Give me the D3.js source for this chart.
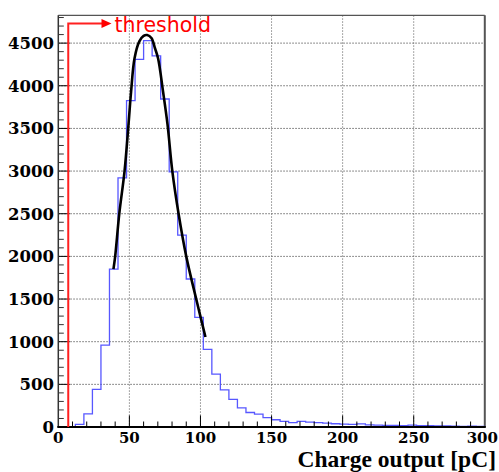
<!DOCTYPE html>
<html>
<head>
<meta charset="utf-8">
<script src="https://cdn.jsdelivr.net/npm/d3@7"></script>
<style>
  html, body { margin: 0; padding: 0; background: #fff; }
  svg { display: block; }
</style>
</head>
<body>
<script>
// Charge spectrum: 50 bins of 6 pC between 0 and 300 pC
const binEdgesStart = 0;
const binWidth = 6;
const counts = [
  0, 2, 30, 155, 440, 960, 1850, 2920, 3825, 4310,
  4530, 4350, 3845, 2990, 2250, 1735, 1285, 910, 620, 435,
  325, 225, 170, 150, 110, 85, 65, 52, 66, 58,
  52, 45, 38, 33, 30, 36, 25, 22, 20, 20,
  17, 22, 15, 15, 12, 12, 10, 8, 10, 8
];

// Fitted peak curve, sampled (charge [pC], entries)
const fitX = [38.8, 40.0, 42.9, 46.6, 49.4, 51.2, 53.6, 57.0, 60.0, 62.5, 65.5, 68.0, 70.2, 73.7, 76.8, 80.2, 84.6, 90.0, 97.0, 103.5];
const fitY = [1850, 2000, 2500, 3000, 3550, 3930, 4320, 4520, 4585, 4595, 4560, 4440, 4320, 3930, 3550, 3000, 2500, 2000, 1500, 1055];

// Threshold marker position [pC]
const thresholdValue = [7];
const thresholdLabel = ["threshold"];

const xTicks = [0, 50, 100, 150, 200, 250, 300];
const yTicks = [0, 500, 1000, 1500, 2000, 2500, 3000, 3500, 4000, 4500];
const xTitle = "Charge output [pC]";

const W = 499, H = 472;
const frame = { left: 58.3, right: 484.8, top: 15.3, bottom: 427 };
const yMax = 4826;

const svg = d3.select("body").append("svg")
  .attr("width", W).attr("height", H);

const x = d3.scaleLinear().domain([0, 300]).range([frame.left, frame.right]);
const y = d3.scaleLinear().domain([0, yMax]).range([frame.bottom, frame.top]);

// grid
const grid = svg.append("g");
grid.selectAll("line.gx").data(xTicks.filter(d => d > 0 && d < 300)).join("line")
  .attr("x1", d => x(d)).attr("x2", d => x(d))
  .attr("y1", frame.top).attr("y2", frame.bottom)
  .attr("stroke", "#8a8a8a").attr("stroke-width", 1)
  .attr("stroke-dasharray", "1.5,1.5");
grid.selectAll("line.gy").data(yTicks.filter(d => d > 0)).join("line")
  .attr("x1", frame.left).attr("x2", frame.right)
  .attr("y1", d => y(d)).attr("y2", d => y(d))
  .attr("stroke", "#6a6a6a").attr("stroke-width", 1)
  .attr("stroke-dasharray", "1.5,1.5");

// frame top/right
svg.append("line").attr("x1", frame.left).attr("x2", frame.right)
  .attr("y1", frame.top).attr("y2", frame.top)
  .attr("stroke", "#555").attr("stroke-width", 1.2);
svg.append("line").attr("x1", frame.right).attr("x2", frame.right)
  .attr("y1", frame.top).attr("y2", frame.bottom)
  .attr("stroke", "#555").attr("stroke-width", 2);

// histogram outline
const histPts = [];
counts.forEach((c, i) => {
  const x0 = binEdgesStart + i * binWidth;
  histPts.push([x0, c], [x0 + binWidth, c]);
});
const histLine = d3.line().x(d => x(d[0])).y(d => y(d[1]));
svg.append("path")
  .attr("d", histLine(histPts))
  .attr("fill", "none")
  .attr("stroke", "#4545ff")
  .attr("stroke-width", 1.3)
  .attr("stroke-opacity", 0.9);

// fit curve
const fitLine = d3.line().x(d => x(d[0])).y(d => y(d[1])).curve(d3.curveCatmullRom.alpha(0.5));
svg.append("path")
  .attr("d", fitLine(fitX.map((v, i) => [v, fitY[i]])))
  .attr("fill", "none")
  .attr("stroke", "#000")
  .attr("stroke-width", 2.6)
  .attr("stroke-linejoin", "round");

// axes
const xMinor = d3.range(0, 301, 10).filter(d => d % 50 !== 0);
const yMinor = d3.range(0, yMax, 100).filter(d => d % 500 !== 0);
const axes = svg.append("g").attr("stroke", "#000").attr("stroke-width", 1);
axes.selectAll("line.xt").data(xTicks.filter(d => d > 0 && d < 300)).join("line")
  .attr("x1", d => x(d)).attr("x2", d => x(d))
  .attr("y1", frame.bottom).attr("y2", frame.bottom - 11.5);
axes.selectAll("line.xm").data(xMinor).join("line")
  .attr("x1", d => x(d)).attr("x2", d => x(d))
  .attr("y1", frame.bottom).attr("y2", frame.bottom - 5.5);
axes.selectAll("line.yt").data(yTicks.filter(d => d > 0)).join("line")
  .attr("x1", frame.left).attr("x2", frame.left + 11.5)
  .attr("y1", d => y(d)).attr("y2", d => y(d));
axes.selectAll("line.ym").data(yMinor).join("line")
  .attr("x1", frame.left).attr("x2", frame.left + 5.5)
  .attr("y1", d => y(d)).attr("y2", d => y(d))
  .attr("stroke", "#333");

svg.append("line").attr("x1", frame.left).attr("x2", frame.left)
  .attr("y1", frame.top).attr("y2", frame.bottom)
  .attr("stroke", "#333").attr("stroke-width", 1.5);
svg.append("line").attr("x1", frame.left - 1).attr("x2", frame.right + 1)
  .attr("y1", frame.bottom).attr("y2", frame.bottom)
  .attr("stroke", "#000").attr("stroke-width", 2.2);

// tick labels
const tickFont = "'DejaVu Serif', serif";
svg.append("g").selectAll("text").data(xTicks).join("text")
  .attr("x", d => x(d)).attr("y", 442.5)
  .attr("text-anchor", "middle")
  .attr("font-family", tickFont).attr("font-weight", "bold")
  .attr("font-size", 15).attr("fill", "#000")
  .text(d => d)
  .each(function () {
    // keep the last label inside the page
    const bb = this.getBBox();
    const over = bb.x + bb.width - (W - 1);
    if (over > 0) d3.select(this).attr("x", +d3.select(this).attr("x") - over);
  });
svg.append("g").selectAll("text").data(yTicks).join("text")
  .attr("x", 54).attr("y", d => y(d) + 6)
  .attr("text-anchor", "end")
  .attr("font-family", tickFont).attr("font-weight", "bold")
  .attr("font-size", 16.5).attr("fill", "#000")
  .text(d => d);

// axis title
svg.append("text")
  .attr("x", 496).attr("y", 467)
  .attr("text-anchor", "end")
  .attr("font-family", "'Liberation Serif', 'Times New Roman', serif")
  .attr("font-weight", "bold").attr("font-size", 23.5)
  .attr("fill", "#000")
  .text(xTitle);

// threshold marker
const tx = x(thresholdValue[0]);
const arrowTip = 111.5, arrowY = 23.5;
svg.append("path")
  .attr("d", `M${tx},${frame.bottom} L${tx},${arrowY} L${arrowTip - 9},${arrowY}`)
  .attr("fill", "none").attr("stroke", "#ff2020").attr("stroke-width", 2);
svg.append("path")
  .attr("d", `M${arrowTip - 10},${arrowY - 4.5} L${arrowTip},${arrowY} L${arrowTip - 10},${arrowY + 4.5} Z`)
  .attr("fill", "#ff0000");
svg.append("text")
  .attr("x", 114.5).attr("y", 31.5)
  .attr("font-family", "'DejaVu Sans', sans-serif")
  .attr("font-size", 20.5).attr("fill", "#ff0000")
  .text(thresholdLabel[0]);
</script>
</body>
</html>
